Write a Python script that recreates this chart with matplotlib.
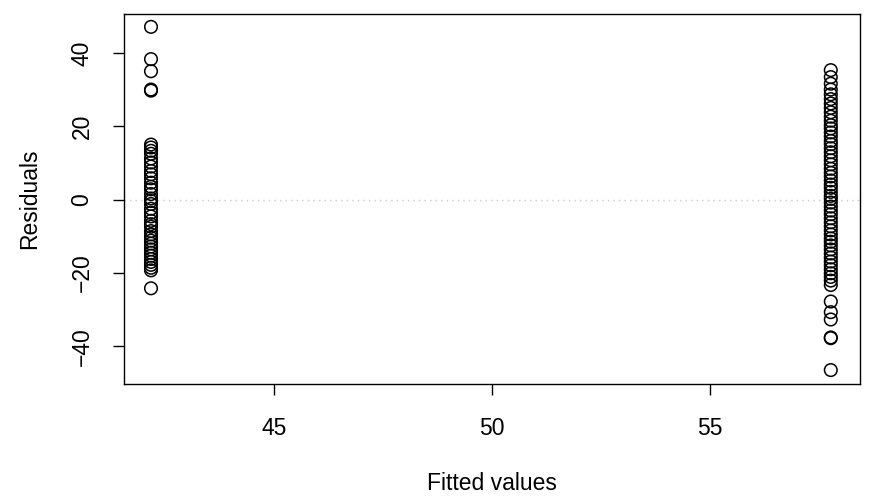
import matplotlib.pyplot as plt

plt.rcParams['font.family'] = ['Liberation Sans', 'DejaVu Sans']

# fitted value per group and the residuals
fit_low = 42.17
fit_high = 57.78
res_low = [47.1, 38.3, 35.0, 30.0, 29.7, 15.0, 14.2, 13.3, 12.5, 11.2, 10.1, 9.0,
           7.8, 6.9, 5.8, 4.6, 3.5, 2.8, 1.5, 0.3, -0.4, -1.2, -2.5, -3.6, -4.6,
           -5.8, -6.7, -7.4, -8.6, -9.5, -10.4, -11.2, -12.0, -12.8, -13.6, -14.5,
           -15.3, -16.2, -17.0, -17.8, -18.6, -19.3, -24.2]
res_high = [35.3, 33.4, 31.6, 30.0, 28.7, 27.4, 26.2, 25.0, 23.8, 22.6, 21.5, 20.3,
            19.4, 18.3, 17.2, 16.0, 15.1, 14.0, 12.9, 11.8, 10.7, 9.6, 8.4, 7.3,
            6.3, 5.2, 4.1, 3.2, 2.1, 1.0, 0.2, -0.8, -1.9, -3.0, -4.0, -5.1, -6.2,
            -7.3, -8.4, -9.5, -10.6, -11.5, -12.5, -13.6, -14.7, -15.8, -16.9,
            -17.9, -19.0, -20.1, -21.1, -22.1, -23.3, -27.8, -30.7, -32.7, -37.6,
            -37.8, -46.5]

fig = plt.figure(figsize=(8.72, 5.01), dpi=100)
ax = fig.add_axes([0.1422, 0.2335, 0.8440, 0.7385])

ax.axhline(0, color='#c8c8c8', linestyle=(0, (1, 3)), linewidth=1, zorder=1)
ax.scatter([fit_low] * len(res_low), res_low, s=82, facecolors='none',
           edgecolors='black', linewidths=1.1, zorder=2)
ax.scatter([fit_high] * len(res_high), res_high, s=82, facecolors='none',
           edgecolors='black', linewidths=1.1, zorder=2)

ax.set_xlim(41.55, 58.45)
ax.set_ylim(-50.3, 50.6)
ax.set_xticks([45, 50, 55])
ax.set_yticks([-40, -20, 0, 20, 40])
ax.set_yticklabels(['\u221240', '\u221220', '0', '20', '40'], rotation=90, va='center')
ax.tick_params(direction='out', length=8, width=1, labelsize=16.5)
ax.tick_params(axis='x', pad=16)
ax.tick_params(axis='y', pad=14)
for sp in ax.spines.values():
    sp.set_linewidth(1)

ax.set_xlabel('Fitted values', fontsize=16.5, labelpad=23)
ax.set_ylabel('Residuals', fontsize=16.5, labelpad=21)

fig.savefig('out.png', dpi=100)
